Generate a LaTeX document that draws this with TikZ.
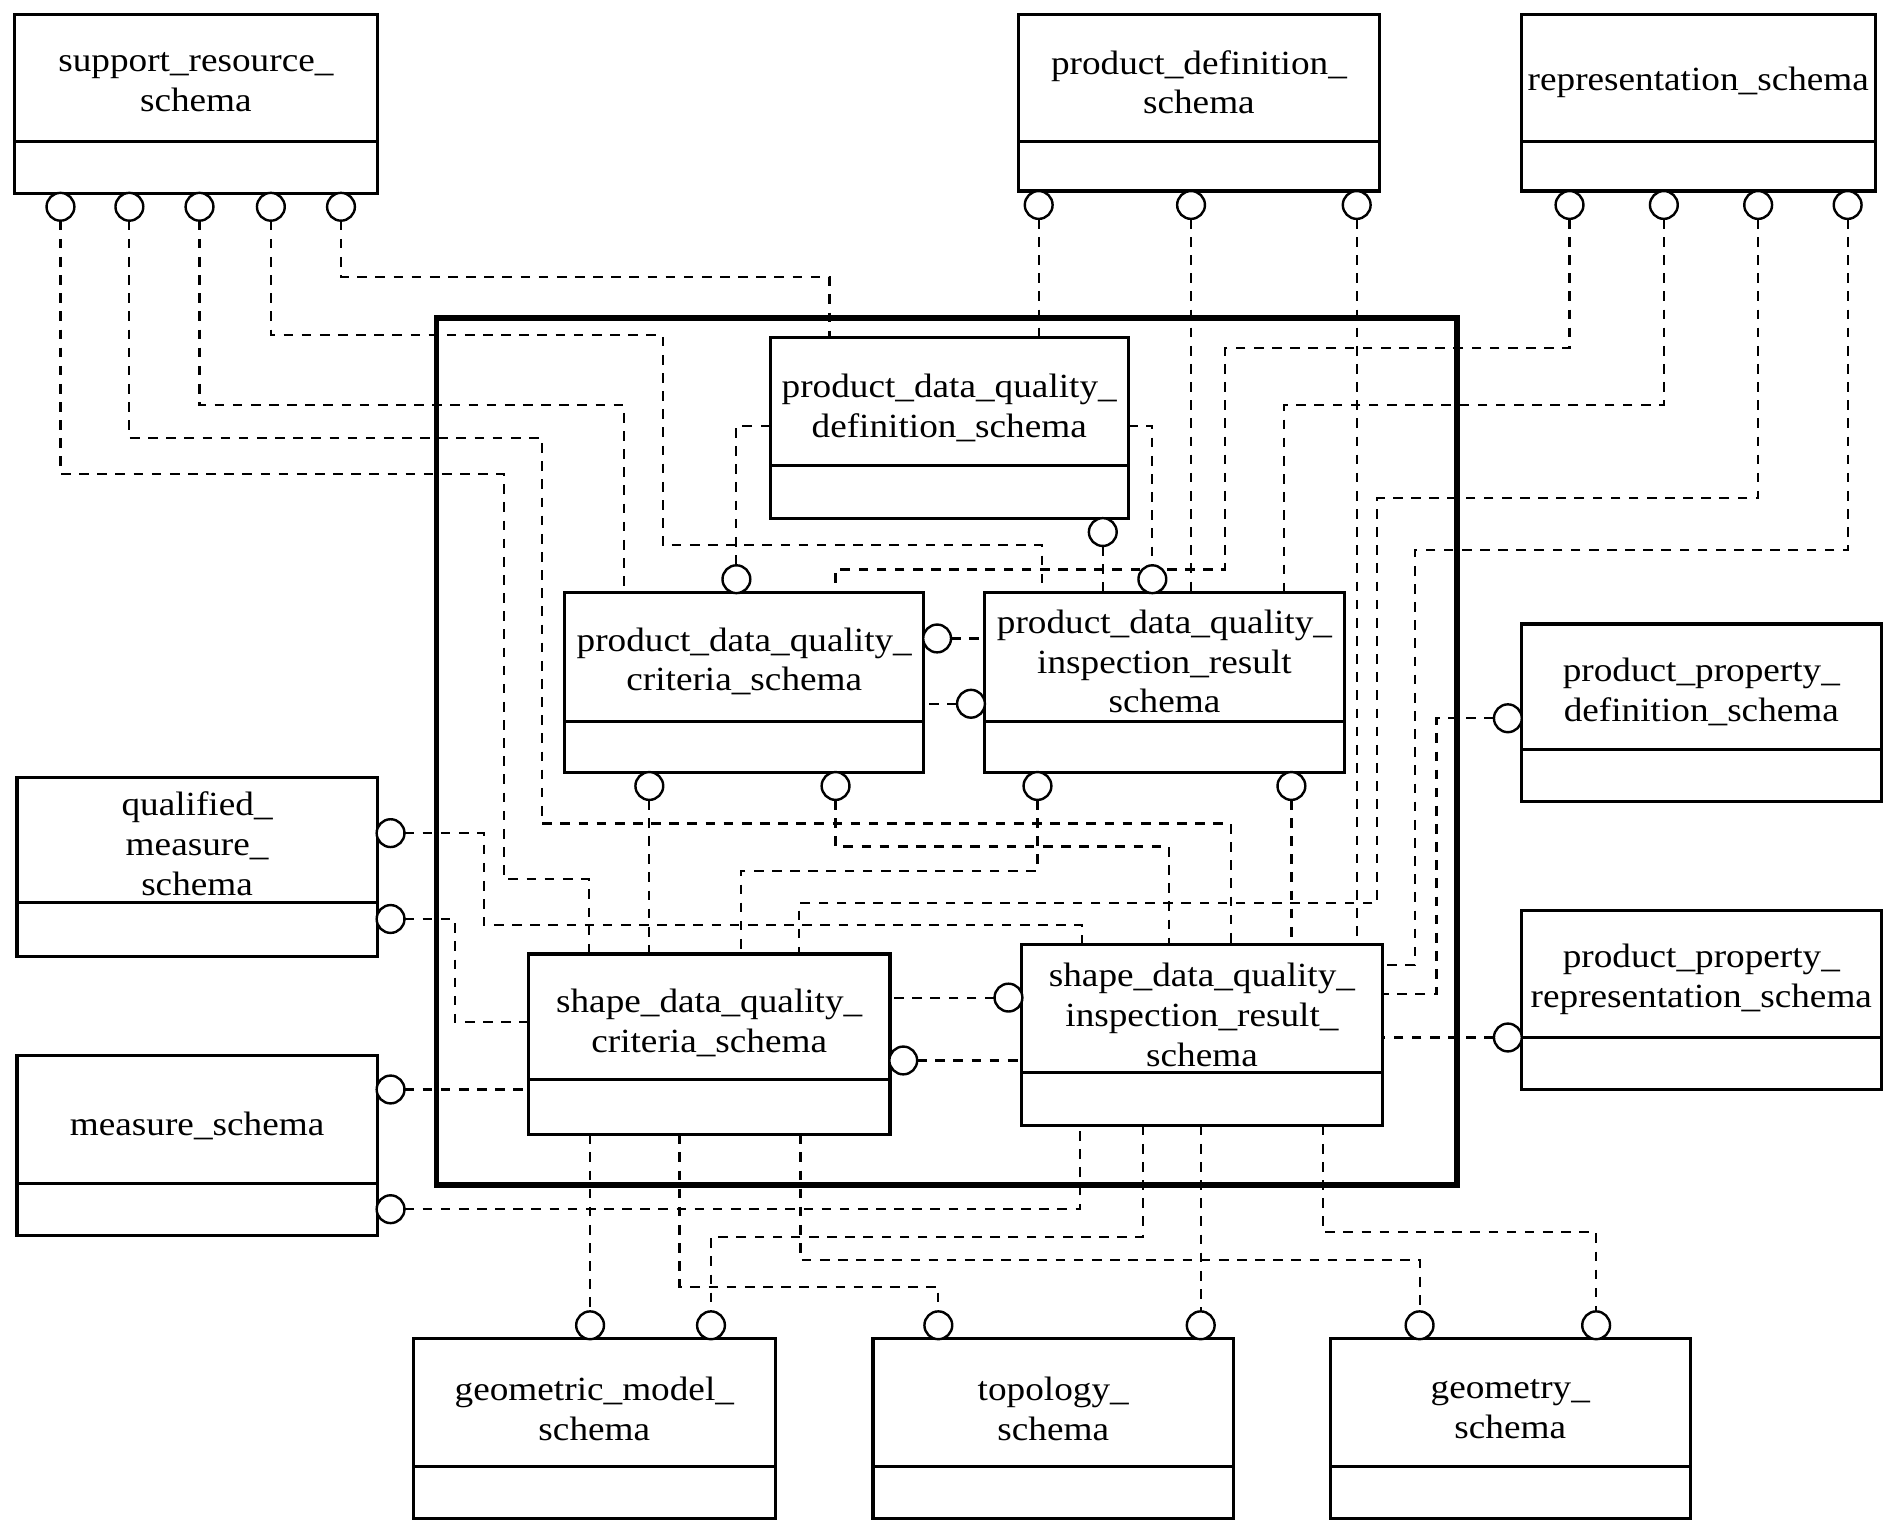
\documentclass[tikz,border=0pt]{standalone}
\usepackage{fontspec}
\setmainfont{Liberation Serif}
\newfontfamily\labfont[FakeStretch=1.1]{Liberation Serif}
\usetikzlibrary{fit}
\pgfdeclarelayer{bg}
\pgfsetlayers{bg,main}
\tikzset{
  box/.style={draw, line width=1.3pt, inner sep=0pt, outer sep=0pt},
  divline/.style={line width=1.2pt},
  pkgframe/.style={draw, line width=2.4pt, inner sep=0pt},
  lolli/.style={draw, fill=white, circle, line width=1pt, minimum size=11.5pt, inner sep=0pt, outer sep=0pt},
  conn/.style={line width=0.9pt, dash pattern=on 4pt off 3.5pt},
  lbl/.style={font=\labfont\fontsize{14}{16.5}\selectfont, align=center, inner sep=0pt}
}
\newcommand\umlbox[8]{%
  \node[box, fit={(#2,#3) (#4,#5)}] (#1) {};
  \draw[divline] (#2,#6) -- (#4,#6);
  \node[lbl] (#1-t) at ({(#2+#4)/2},#7) {#8};
}
\begin{document}
\begin{tikzpicture}[x=0.5pt, y=-0.5pt]
\useasboundingbox (0,0) rectangle (1568,1270);

% package frame
\node[pkgframe, fit={(361,263) (1205,980)}] (pkg) {};

% boxes
\umlbox{srs}{12}{12}{312}{160}{117}{68}{support\_resource\_\\schema}
\umlbox{pds}{842}{12}{1141}{158}{117}{68}{product\_definition\_\\schema}
\umlbox{reps}{1258}{12}{1551}{158}{117}{68}{representation\_schema}
\umlbox{pdqd}{637}{279}{933}{429}{385}{337}{product\_data\_quality\_\\definition\_schema}
\umlbox{pdqc}{467}{490}{764}{639}{597}{547}{product\_data\_quality\_\\criteria\_schema}
\umlbox{pdqir}{814}{490}{1112}{639}{597}{547}{product\_data\_quality\_\\inspection\_result\\schema}
\umlbox{qms}{14}{643}{312}{791}{746}{698}{qualified\_\\measure\_\\schema}
\umlbox{mss}{14}{873}{312}{1022}{979}{931}{measure\_schema}
\umlbox{sdqc}{437}{789}{736}{938}{893}{846}{shape\_data\_quality\_\\criteria\_schema}
\umlbox{sdqir}{845}{781}{1143}{931}{887}{839}{shape\_data\_quality\_\\inspection\_result\_\\schema}
\umlbox{ppd}{1258}{516}{1556}{663}{620}{572}{product\_property\_\\definition\_schema}
\umlbox{ppr}{1258}{753}{1556}{901}{858}{810}{product\_property\_\\representation\_schema}
\umlbox{gms}{342}{1107}{641}{1256}{1213}{1165}{geometric\_model\_\\schema}
\umlbox{tps}{722}{1107}{1020}{1256}{1213}{1165}{topology\_\\schema}
\umlbox{ges}{1100}{1107}{1398}{1256}{1213}{1165}{geometry\_\\schema}

% lollipops
\foreach \n/\x in {sr1/50, sr2/107, sr3/165, sr4/224, sr5/282}
  \node[lolli] (\n) at (\x,171) {};
\foreach \n/\x in {pd1/859, pd2/985, pd3/1122, rp1/1298, rp2/1376, rp3/1454, rp4/1528}
  \node[lolli] (\n) at (\x,169.5) {};
\node[lolli] (dq) at (912,440) {};
\node[lolli] (cq) at (609,479) {};
\node[lolli] (iq) at (953,479) {};
\node[lolli] (cr) at (775,528) {};
\node[lolli] (il) at (803,582) {};
\node[lolli] (cb1) at (537,650) {};
\node[lolli] (cb2) at (691,650) {};
\node[lolli] (ib1) at (858,650) {};
\node[lolli] (ib2) at (1068,650) {};
\node[lolli] (qm1) at (323,689) {};
\node[lolli] (qm2) at (323,760) {};
\node[lolli] (ms1) at (323,901) {};
\node[lolli] (ms2) at (323,1000) {};
\node[lolli] (scR) at (747,877) {};
\node[lolli] (siL) at (834,825) {};
\node[lolli] (pp1) at (1247,594) {};
\node[lolli] (pr) at (1247,858) {};
\foreach \n/\x in {g1/488, g2/588, t1/776, t2/993, e1/1174, e2/1320}
  \node[lolli] (\n) at (\x,1096) {};

% connectors
\begin{pgfonlayer}{bg}
\draw[conn] (sr1.south) |- (417,392) |- (487,727) -- (487,0 |- sdqc.north);
\draw[conn] (sr2.south) |- (448,362) |- (1018,681) -- (1018,0 |- sdqir.north);
\draw[conn] (sr3.south) |- (516,335) -- (516,0 |- pdqc.north);
\draw[conn] (sr4.south) |- (548,277) |- (862,451) -- (862,0 |- pdqir.north);
\draw[conn] (sr5.south) |- (686,229) -- (686,0 |- pdqd.north);

\draw[conn] (pd1.south) -- (pd1.south |- pdqd.north);
\draw[conn] (pd2.south) -- (pd2.south |- pdqir.north);
\draw[conn] (pd3.south) -- (pd3.south |- sdqir.north);

\draw[conn] (rp1.south) |- (1013,288) |- (691,471) -- (691,0 |- pdqc.north);
\draw[conn] (rp2.south) |- (1062,335) -- (1062,0 |- pdqir.north);
\draw[conn] (rp3.south) |- (1139,412) |- (661,747) -- (661,0 |- sdqc.north);
\draw[conn] (rp4.south) |- (1170,455) |- (sdqir.east |- 0,798);

\draw[conn] (pdqd.west |- 0,352) -| (cq.north);
\draw[conn] (pdqd.east |- 0,352) -| (iq.north);
\draw[conn] (dq.south) -- (dq.south |- pdqir.north);
\draw[conn] (cr.east) -- (cr.east -| pdqir.west);
\draw[conn] (il.west) -- (il.west -| pdqc.east);

\draw[conn] (cb1.south) -- (cb1.south |- sdqc.north);
\draw[conn] (cb2.south) |- (967,700) -- (967,0 |- sdqir.north);
\draw[conn] (ib1.south) |- (613,720) -- (613,0 |- sdqc.north);
\draw[conn] (ib2.south) -- (ib2.south |- sdqir.north);

\draw[conn] (qm1.east) -| (400,765) -| (895,0 |- sdqir.north);
\draw[conn] (qm2.east) -| (376,845) -- (376,845 -| sdqc.west);
\draw[conn] (ms1.east) -- (ms1.east -| sdqc.west);
\draw[conn] (ms2.east) -| (893,0 |- sdqir.south);

\draw[conn] (siL.west) -- (siL.west -| sdqc.east);
\draw[conn] (scR.east) -- (scR.east -| sdqir.west);

\draw[conn] (pp1.west) -| (1188,822) -- (1188,822 -| sdqir.east);
\draw[conn] (pr.west) -- (pr.west -| sdqir.east);

\draw[conn] (g1.north |- sdqc.south) -- (g1.north);
\draw[conn] (562,0 |- sdqc.south) |- (776,1064) -- (t1.north);
\draw[conn] (662,0 |- sdqc.south) |- (1174,1042) -- (e1.north);
\draw[conn] (945,0 |- sdqir.south) |- (588,1023) -- (g2.north);
\draw[conn] (t2.north |- sdqir.south) -- (t2.north);
\draw[conn] (1094,0 |- sdqir.south) |- (1320,1019) -- (e2.north);
\end{pgfonlayer}
\end{tikzpicture}
\end{document}
